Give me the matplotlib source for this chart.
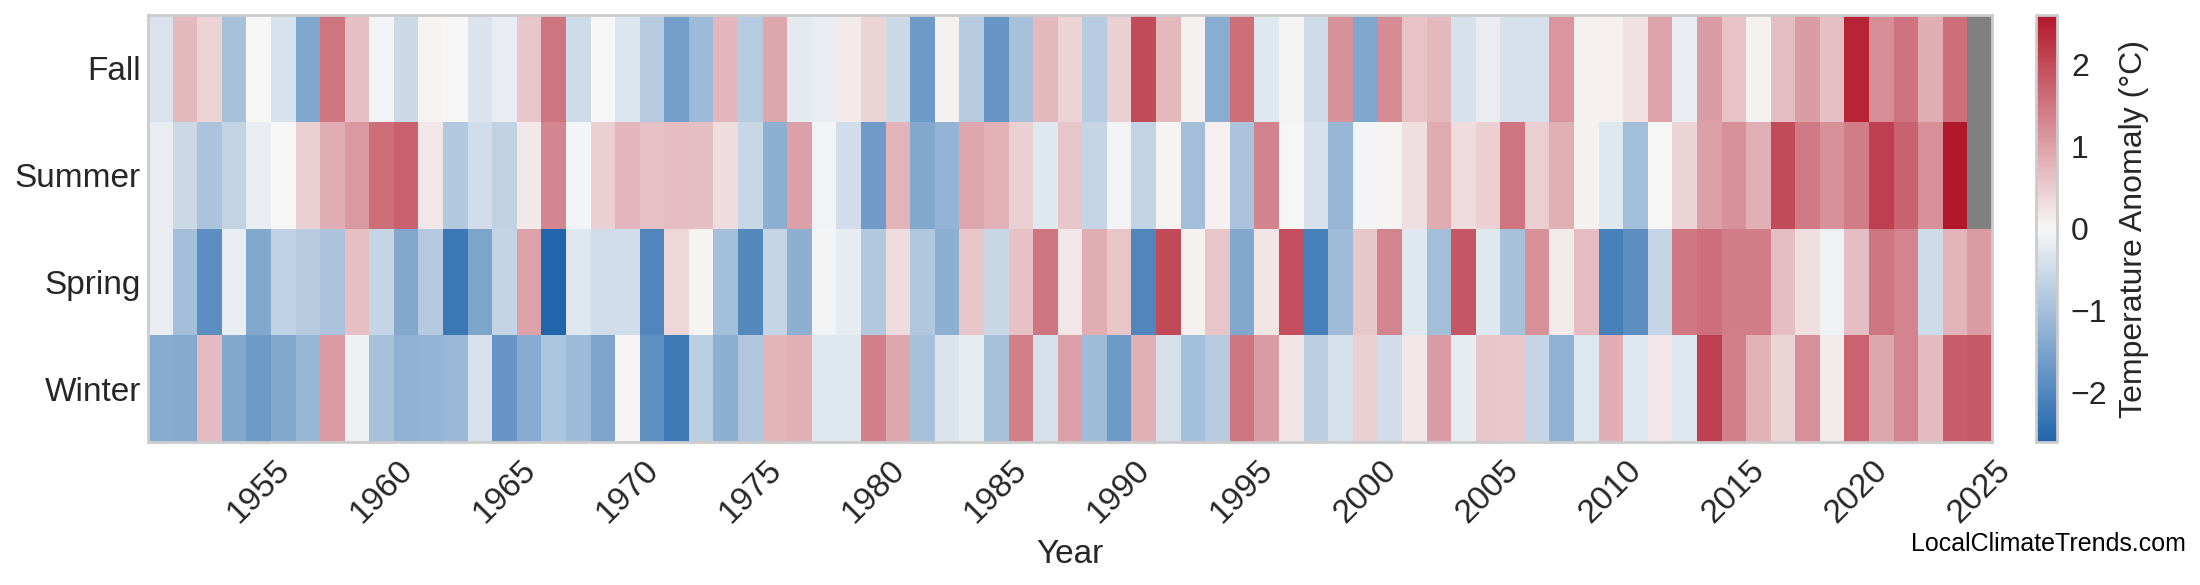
import numpy as np
import matplotlib
matplotlib.use("Agg")
import matplotlib.pyplot as plt
from matplotlib.colors import LinearSegmentedColormap

nan = np.nan
years = list(range(1951, 2026))
seasons = ["Fall", "Summer", "Spring", "Winter"]

fall = [-0.36, 0.73, 0.41, -0.97, 0.0, -0.38, -1.46, 1.52, 0.63, -0.05,
        -0.53, 0.05, 0.0, -0.33, -0.18, 0.55, 1.51, -0.5, 0.0, -0.31,
        -0.78, -1.6, -1.09, 0.75, -0.78, 0.92, -0.23, -0.18, 0.15, 0.41,
        -0.53, -1.66, 0.07, -0.78, -1.74, -0.97, 0.73, 0.41, -0.78, 0.45,
        2.0, 0.73, 0.08, -1.34, 1.6, -0.27, 0.06, -0.5, 1.19, -1.46,
        1.25, 0.59, 0.73, -0.4, -0.17, -0.39, -0.39, 1.13, 0.07, 0.1,
        0.25, 0.96, -0.18, 1.05, 0.59, 0.07, 0.66, 1.05, 0.64, 2.44,
        1.22, 1.54, 0.84, 1.6, nan]
summer = [-0.18, -0.53, -0.93, -0.63, -0.18, 0.0, 0.45, 0.84, 1.1, 1.6,
          1.74, 0.2, -0.84, -0.45, -0.67, 0.17, 1.31, -0.06, 0.45, 0.75,
          0.61, 0.68, 0.65, 0.31, -0.57, -1.3, 1.0, -0.08, -0.45, -1.64,
          0.78, -1.42, -1.18, 0.94, 0.8, 0.45, -0.28, 0.57, -0.6, -0.08,
          -0.63, 0.05, -1.03, 0.09, -0.93, 1.35, 0.0, -0.4, -1.15, -0.05,
          0.05, 0.27, 0.89, 0.31, 0.45, 1.52, 0.48, 0.83, 0.08, -0.28,
          -1.03, 0.0, 0.42, 1.0, 1.18, 0.83, 2.0, 1.46, 1.18, 1.42,
          2.12, 1.74, 1.21, 2.59, nan]
spring = [-0.18, -1.0, -1.87, -0.17, -1.42, -0.69, -0.78, -0.93, 0.64, -0.6,
          -1.42, -0.81, -2.27, -1.48, -0.63, 0.99, -2.6, -0.3, -0.47, -0.47,
          -2.03, 0.37, 0.05, -1.0, -1.97, -0.6, -1.3, -0.05, -0.2, -0.84,
          0.31, -0.87, -1.3, 0.56, -0.57, 0.62, 1.52, 0.2, 0.87, 0.58,
          -2.03, 2.03, 0.08, 0.57, -1.42, 0.21, 1.97, -2.15, -1.06, 0.56,
          1.34, -0.28, -1.02, 1.85, -0.28, -0.96, 1.19, 0.15, 0.69, -2.13,
          -1.87, -0.6, 1.48, 1.57, 1.42, 1.42, 0.66, 0.27, -0.1, 0.66,
          1.52, 1.34, -0.5, 0.78, 1.07]
winter = [-1.36, -1.38, 0.71, -1.41, -1.66, -1.4, -1.15, 1.07, -0.13, -0.96,
          -1.24, -1.2, -1.12, -0.38, -1.73, -1.36, -0.91, -1.09, -1.47, 0.03,
          -1.83, -2.25, -0.73, -1.3, -0.87, 0.76, 0.82, -0.29, -0.3, 1.39,
          0.92, -0.96, -0.33, -0.2, -0.96, 1.39, -0.39, 1.02, -1.06, -1.66,
          0.83, -0.41, -1.0, -0.78, 1.52, 1.05, 0.22, -0.72, -0.41, 0.45,
          -0.45, 0.2, 1.04, -0.2, 0.55, 0.54, -0.6, -1.24, -0.3, 0.84,
          -0.28, 0.2, -0.3, 2.12, 1.39, 0.8, 0.41, 1.21, 0.16, 1.71,
          0.92, 1.34, 0.71, 1.77, 1.83]
tick_years = list(range(1955, 2026, 5))

data = np.ma.masked_invalid(np.array([fall, summer, spring, winter], dtype=float))

plt.rcParams['font.family'] = ['Liberation Sans', 'DejaVu Sans']
txt = '#262626'

cmap = LinearSegmentedColormap.from_list('anom', ['#2166ac', '#f7f7f7', '#b2182b'])
cmap.set_bad('#808080')
vlim = 2.6

fig = plt.figure(figsize=(22, 5.85), dpi=100)
ax = fig.add_axes([148/2200, 1-442/585, (1992-148)/2200, (442-15)/585])
n = len(years)
mesh = ax.pcolormesh(np.arange(n + 1), np.arange(len(seasons) + 1), data,
                     cmap=cmap, vmin=-vlim, vmax=vlim)
ax.set_xlim(0, n)
ax.set_ylim(len(seasons), 0)
ax.set_xticks([years.index(y) + 0.5 for y in tick_years])
ax.set_xticklabels([str(y) for y in tick_years], rotation=45, ha='center',
                   fontsize=24, color=txt)
ax.set_yticks(np.arange(len(seasons)) + 0.5)
ax.set_yticklabels(seasons, fontsize=24, color=txt)
ax.tick_params(axis='both', length=0)
ax.tick_params(axis='x', pad=9)
ax.tick_params(axis='y', pad=5)
ax.set_xlabel('Year', fontsize=24, color=txt, labelpad=7)
for s in ax.spines.values():
    s.set_color('#cccccc')
    s.set_linewidth(2)

cax = fig.add_axes([2036/2200, 1-442/585, 21/2200, (442-15)/585])
cb = fig.colorbar(mesh, cax=cax)
cb.set_ticks([-2, -1, 0, 1, 2])
cb.ax.tick_params(labelsize=23, length=0, pad=10, colors=txt)
cb.set_label('Temperature Anomaly (°C)', fontsize=23, color=txt, labelpad=8)
cb.outline.set_edgecolor('#cccccc')
cb.outline.set_linewidth(2)

fig.text(2186/2200, 1-544/585, 'LocalClimateTrends.com', ha='right', va='center',
         fontsize=18, color='black')

fig.savefig('out.png', dpi=100, facecolor='white')
